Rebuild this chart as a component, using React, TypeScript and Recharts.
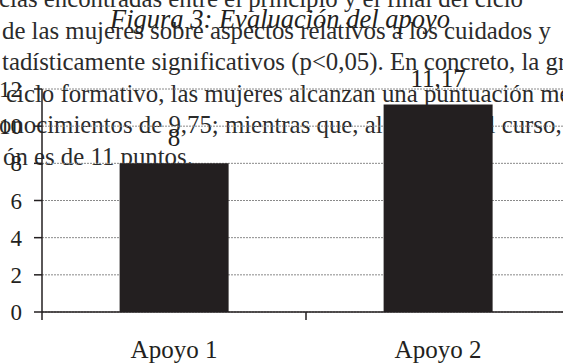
import { BarChart, Bar, XAxis, YAxis, CartesianGrid, LabelList } from "recharts";

const categories = ["Apoyo 1", "Apoyo 2"];
const values = [8, 11.17];
const valueLabels = ["8", "11,17"];
const yTicks = [0, 2, 4, 6, 8, 10, 12];

const title = "Figura 3: Evaluación del apoyo";
const bodyLines = [
  "cias encontradas entre el principio y el final del ciclo",
  "de las mujeres sobre aspectos relativos a los cuidados y",
  "tadísticamente significativos (p<0,05). En concreto, la gráfica",
  "ciclo formativo, las mujeres alcanzan una puntuación media",
  "onocimientos de 9,75; mientras que, al finalizar el curso, la",
  "ón es de 11 puntos.",
];
const bodyLeft = [-1, 2, 2, 6, -1, 3];

const data = categories.map((name, i) => ({
  name,
  value: values[i],
  label: valueLabels[i],
}));

const ink = "#231f20";
const serif = "'Liberation Serif', 'DejaVu Serif', serif";

const CHART_W = 580;
const LEFT = 42;
const RIGHT = 10;
const halfBand = (CHART_W - LEFT - RIGHT) / categories.length / 2;

function XTick(props: any) {
  const { x, y, payload } = props;
  return (
    <g>
      <line x1={x - halfBand} x2={x - halfBand} y1={y} y2={y + 8} stroke={ink} strokeWidth={1.5} />
      <text x={x} y={y + 46} textAnchor="middle" fill={ink} fontSize={25} fontFamily={serif}>
        {payload.value}
      </text>
    </g>
  );
}

export default function App() {
  return (
    <div
      style={{
        position: "fixed",
        left: 0,
        top: 0,
        width: 563,
        height: 364,
        overflow: "hidden",
        background: "#fff",
      }}
    >
      <div style={{ position: "absolute", left: 0, top: 0, width: 563, height: 364, color: "#2b2b2b" }}>
        {bodyLines.map((t, i) => (
          <div
            key={i}
            style={{
              position: "absolute",
              left: bodyLeft[i],
              top: -18 + i * 31.5,
              whiteSpace: "nowrap",
              fontFamily: serif,
              fontSize: 24.8,
              lineHeight: "34px",
            }}
          >
            {t}
          </div>
        ))}
        <div
          style={{
            position: "absolute",
            left: 110,
            top: 4,
            whiteSpace: "nowrap",
            fontFamily: serif,
            fontStyle: "italic",
            fontSize: 26.5,
            lineHeight: "30px",
            color: ink,
          }}
        >
          {title}
        </div>
      </div>
      <div style={{ position: "absolute", left: 0, top: 0 }}>
        <BarChart
          width={CHART_W}
          height={364}
          data={data}
          margin={{ top: 89, right: RIGHT, bottom: 0, left: 0 }}
          barCategoryGap="29.4%"
        >
          <CartesianGrid vertical={false} stroke="#8a8a8a" strokeDasharray="2 1" />
          <XAxis
            dataKey="name"
            height={52}
            axisLine={{ stroke: ink, strokeWidth: 1.5 }}
            tickLine={false}
            tickSize={0}
            tickMargin={0}
            tick={<XTick />}
            interval={0}
          />
          <YAxis
            width={LEFT}
            domain={[0, 12]}
            ticks={yTicks}
            interval={0}
            axisLine={{ stroke: ink, strokeWidth: 1.5 }}
            tickLine={{ stroke: ink, strokeWidth: 1.5 }}
            tickSize={8}
            tickMargin={12}
            tick={{ fill: ink, fontSize: 23, fontFamily: serif }}
          />
          <Bar dataKey="value" fill={ink} isAnimationActive={false}>
            <LabelList
              dataKey="label"
              position="top"
              offset={17}
              fill={ink}
              fontSize={25}
              fontFamily={serif}
            />
          </Bar>
        </BarChart>
      </div>
    </div>
  );
}
